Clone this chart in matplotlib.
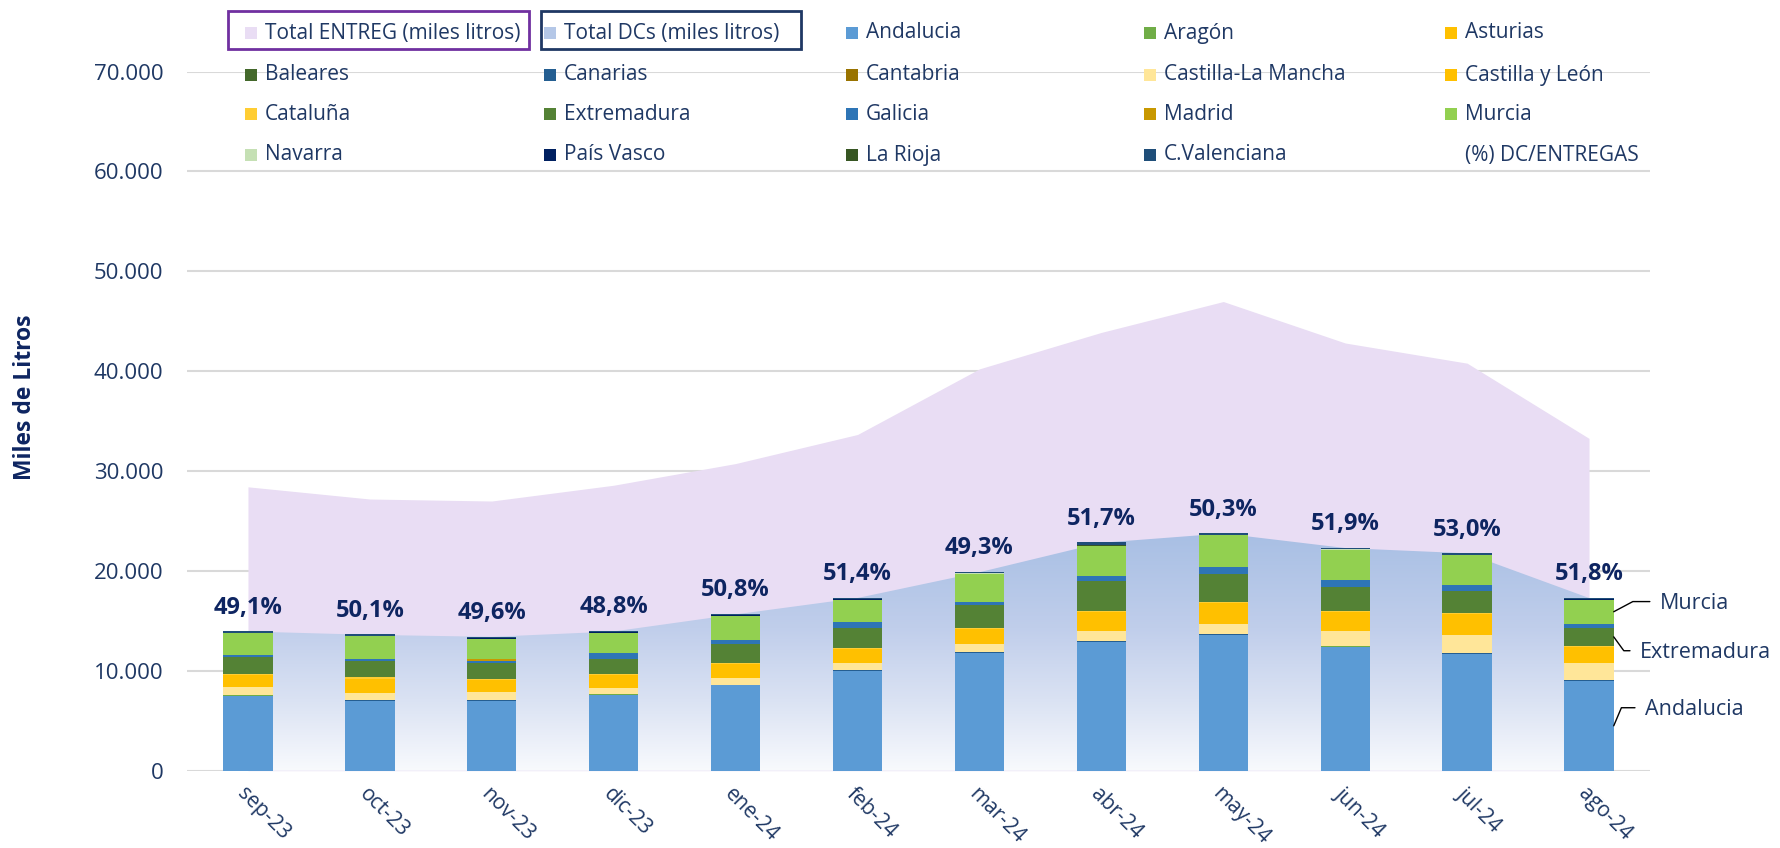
import matplotlib.pyplot as plt
import numpy as np
from matplotlib.colors import LinearSegmentedColormap
from matplotlib.patches import Rectangle
from matplotlib.ticker import FuncFormatter

plt.rcParams['font.family'] = ['Open Sans', 'DejaVu Sans']

months = ['sep-23', 'oct-23', 'nov-23', 'dic-23', 'ene-24', 'feb-24',
          'mar-24', 'abr-24', 'may-24', 'jun-24', 'jul-24', 'ago-24']

# miles de litros
total_entreg = [28420, 27200, 27000, 28580, 30750, 33660, 40230, 43880, 46970, 42820, 40800, 33270]
total_dc = [13940, 13600, 13400, 13940, 15650, 17290, 19870, 22820, 23750, 22290, 21760, 17290]
pct_labels = ['49,1%', '50,1%', '49,6%', '48,8%', '50,8%', '51,4%',
              '49,3%', '51,7%', '50,3%', '51,9%', '53,0%', '51,8%']

andalucia = [7520, 6950, 6950, 7620, 8540, 9970, 11790, 12850, 13560, 12420, 11660, 8990]
aragon = [15, 15, 15, 10, 15, 15, 15, 15, 20, 15, 15, 15]
asturias = [5, 5, 5, 5, 5, 5, 5, 5, 5, 5, 5, 5]
baleares = [10, 10, 10, 10, 10, 10, 10, 10, 10, 10, 10, 10]
canarias = [70, 70, 70, 40, 50, 60, 50, 60, 50, 60, 45, 70]
cantabria = [5, 5, 5, 5, 5, 5, 5, 5, 5, 5, 5, 5]
castilla_mancha = [800, 740, 800, 540, 670, 740, 770, 1005, 1040, 1440, 1840, 1710]
castilla_leon = [1150, 1420, 1250, 1350, 1390, 1350, 1520, 1920, 2080, 1920, 2090, 1550]
cataluna = [120, 120, 120, 125, 120, 125, 120, 125, 130, 125, 120, 125]
extremadura = [1675, 1640, 1575, 1510, 1840, 2045, 2280, 2980, 2815, 2410, 2245, 1840]
galicia = [200, 170, 170, 540, 400, 535, 335, 500, 700, 700, 535, 370]
madrid = [20, 20, 170, 20, 20, 20, 20, 20, 20, 20, 20, 20]
murcia = [2180, 2280, 2080, 2040, 2445, 2245, 2815, 3015, 3150, 3015, 2980, 2410]
navarra = [10, 10, 10, 10, 10, 10, 10, 10, 10, 10, 10, 10]
pais_vasco = [20, 20, 20, 20, 20, 20, 20, 20, 20, 20, 20, 20]
la_rioja = [10, 10, 10, 10, 10, 10, 10, 10, 10, 10, 10, 10]
c_valenciana = [160, 160, 160, 130, 130, 160, 130, 300, 160, 130, 160, 160]

region_names = ['Andalucia', 'Aragón', 'Asturias', 'Baleares', 'Canarias', 'Cantabria',
                'Castilla-La Mancha', 'Castilla y León', 'Cataluña', 'Extremadura', 'Galicia',
                'Madrid', 'Murcia', 'Navarra', 'País Vasco', 'La Rioja', 'C.Valenciana']
region_values = [andalucia, aragon, asturias, baleares, canarias, cantabria, castilla_mancha,
                 castilla_leon, cataluna, extremadura, galicia, madrid, murcia, navarra,
                 pais_vasco, la_rioja, c_valenciana]
region_colors = ['#5B9BD5', '#70AD47', '#FFC000', '#43682B', '#255E91', '#997300',
                 '#FFE699', '#FFC000', '#FFCD33', '#548235', '#2E75B6',
                 '#C89800', '#92D050', '#C5E0B4', '#002060', '#375623', '#1F4E79']

NAVY = '#1F3864'
LABEL_NAVY = '#0E2561'
W, H = 1780, 848

fig = plt.figure(figsize=(W / 100, H / 100), dpi=100)
ax = fig.add_axes([187 / W, 1 - 770.7 / H, 1463 / W, 699.2 / H])
x = np.arange(len(months))

# areas
ax.fill_between(x, total_entreg, color='#E9DDF4', lw=0, zorder=1)
dc_poly = ax.fill_between(x, total_dc, color='none', lw=0, zorder=2)
cmap = LinearSegmentedColormap.from_list(
    'dc', [(0, '#F8FAFD'), (0.3, '#DAE2F3'), (0.6, '#C0CEEB'), (1.0, '#A8BFE4')])
grad = np.linspace(0, 1, 256).reshape(-1, 1)
img = ax.imshow(grad, extent=[x[0], x[-1], 0, max(total_dc)], origin='lower',
                aspect='auto', cmap=cmap, zorder=2)
img.set_clip_path(dc_poly.get_paths()[0], transform=ax.transData)

# stacked bars
bar_w = 0.405
bottom = np.zeros(len(months))
mids = {}
for name, vals, col in zip(region_names, region_values, region_colors):
    vals = np.array(vals, dtype=float)
    ax.bar(x, vals, width=bar_w, bottom=bottom, color=col, lw=0, zorder=3)
    mids[name] = bottom[-1] + vals[-1] / 2
    bottom += vals

for i, lab in enumerate(pct_labels):
    ax.annotate(lab, (x[i], bottom[i]), xytext=(0, 17), textcoords='offset points',
                ha='center', va='center', fontsize=17, fontweight='bold',
                color=LABEL_NAVY, zorder=5)

# series names on last bar
callouts = [('Murcia', 33, 5.8, 28), ('Extremadura', 18.7, -11.5, -54),
            ('Andalucia', 22.3, 11.5, 67)]
for name, dx, dy, ang in callouts:
    ax.annotate(name, (x[-1] + bar_w / 2, mids[name]), xytext=(dx, dy),
                textcoords='offset points', ha='left', va='center', fontsize=15.5,
                color=NAVY, zorder=5, annotation_clip=False,
                arrowprops=dict(arrowstyle='-', color='black', lw=1,
                                shrinkA=5, shrinkB=0, relpos=(0, 0.6),
                                connectionstyle=f'angle,angleA=0,angleB={ang},rad=0'))

ax.set_xlim(-0.5, len(months) - 0.5)
ax.set_ylim(0, 70000)
ax.set_yticks(np.arange(0, 70001, 10000))
ax.yaxis.set_major_formatter(FuncFormatter(lambda v, p: f'{int(v):,}'.replace(',', '.')))
ax.grid(axis='y', color='#D9D9D9', lw=1.5)
ax.set_axisbelow(True)
for s in ax.spines.values():
    s.set_visible(False)
ax.tick_params(axis='both', length=0, labelsize=16, labelcolor=NAVY)
ax.tick_params(axis='y', pad=17)
ax.set_xticks(x)
ax.set_xticklabels(months)
ax.tick_params(axis='x', pad=9, labelsize=15)
plt.setp(ax.get_xticklabels(), rotation=-45, ha='left', va='top', rotation_mode='anchor')

fig.text(25 / W, 1 - 397 / H, 'Miles de Litros', rotation=90, ha='center', va='center',
         fontsize=16.5, fontweight='bold', color=LABEL_NAVY)

# legend (5 columns)
legend_items = [('Total ENTREG (miles litros)', '#E9DDF4'), ('Total DCs (miles litros)', '#B4C7E7')]
legend_items += list(zip(region_names, region_colors))
legend_items += [('(%) DC/ENTREGAS', None)]
col_x = [251, 550, 852, 1150, 1451]
row_y = [33, 75, 114, 155]
msize = 12
for k, (name, col) in enumerate(legend_items):
    cx, cy = col_x[k % 5], row_y[k // 5]
    if col is not None:
        fig.patches.append(Rectangle(((cx - msize / 2) / W, 1 - (cy + msize / 2) / H),
                                     msize / W, msize / H, transform=fig.transFigure,
                                     facecolor=col, edgecolor='none', zorder=6))
    fig.text((cx + 14) / W, 1 - cy / H, name, ha='left', va='center', fontsize=15,
             color=NAVY, zorder=6)

for (x0, x1, ec) in [(228, 529, '#7030A0'), (541, 801, '#1F3864')]:
    fig.patches.append(Rectangle((x0 / W, 1 - 49 / H), (x1 - x0) / W, 38 / H,
                                 transform=fig.transFigure, facecolor='none',
                                 edgecolor=ec, lw=2, zorder=6))

fig.savefig('out.png', dpi=100)
